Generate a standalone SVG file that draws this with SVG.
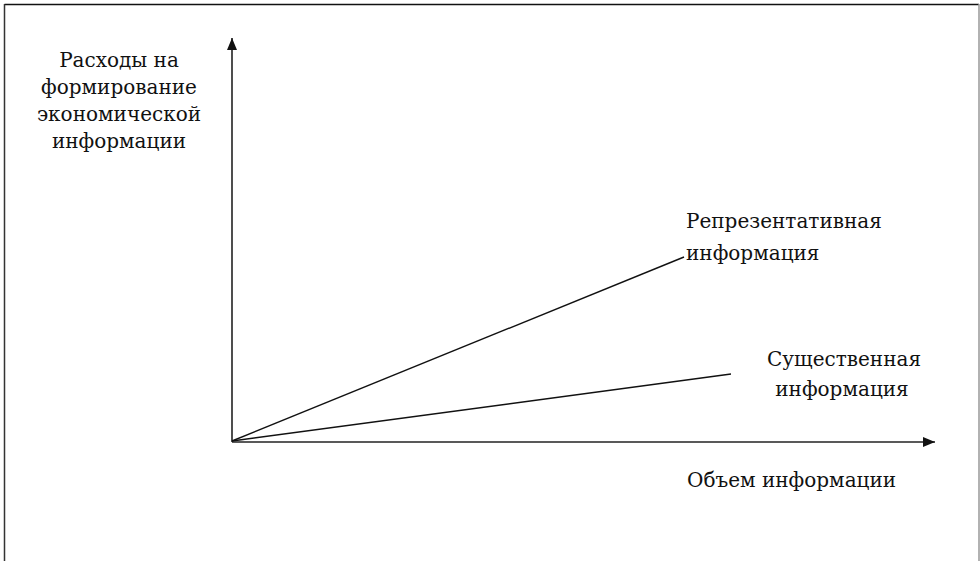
<svg xmlns="http://www.w3.org/2000/svg" width="980" height="561" viewBox="0 0 980 561">
  <style>
    .t { font-family: "DejaVu Serif", "Liberation Serif", serif; font-size: 20px; fill: #111; }
    .ax { stroke: #222; stroke-width: 1.6; fill: none; }
    .ln { stroke: #111; stroke-width: 1.4; fill: none; }
  </style>
  <defs>
    <marker id="arr" viewBox="0 0 12 10" refX="12" refY="5" markerWidth="12" markerHeight="10" markerUnits="userSpaceOnUse" orient="auto">
      <path d="M0,0 L12,5 L0,10 Z" fill="#111"/>
    </marker>
  </defs>
  <rect width="980" height="561" fill="#fff"/>
  <g id="frame">
    <line x1="4.5" y1="4.5" x2="979" y2="4.5" stroke="#111" stroke-width="1.5"/>
    <line x1="4.5" y1="4" x2="4.5" y2="561" stroke="#333" stroke-width="1.5"/>
    <line x1="979" y1="4" x2="979" y2="561" stroke="#999" stroke-width="1.5"/>
  </g>
  <g id="connectors">
    <line id="y-axis" class="ax" x1="232" y1="442" x2="232" y2="38" marker-end="url(#arr)"/>
    <line id="x-axis" class="ax" x1="232" y1="442" x2="935" y2="442" marker-end="url(#arr)" stroke="#3a3a3a" stroke-width="2"/>
    <line id="repr-line" class="ln" x1="232" y1="441" x2="684" y2="257"/>
    <line id="ess-line" class="ln" x1="232" y1="441" x2="731" y2="374"/>
  </g>
  <g id="y-label">
    <text class="t" text-anchor="middle" x="119" y="67">Расходы на</text>
    <text class="t" text-anchor="middle" x="119" y="94">формирование</text>
    <text class="t" text-anchor="middle" x="119" y="121">экономической</text>
    <text class="t" text-anchor="middle" x="119" y="148">информации</text>
  </g>
  <g id="repr-label">
    <text class="t" x="686" y="228">Репрезентативная</text>
    <text class="t" x="686" y="260">информация</text>
  </g>
  <g id="ess-label">
    <text class="t" text-anchor="middle" x="844" y="366">Существенная</text>
    <text class="t" text-anchor="middle" x="842" y="396">информация</text>
  </g>
  <g id="x-label">
    <text class="t" x="687" y="487">Объем информации</text>
  </g>
</svg>
